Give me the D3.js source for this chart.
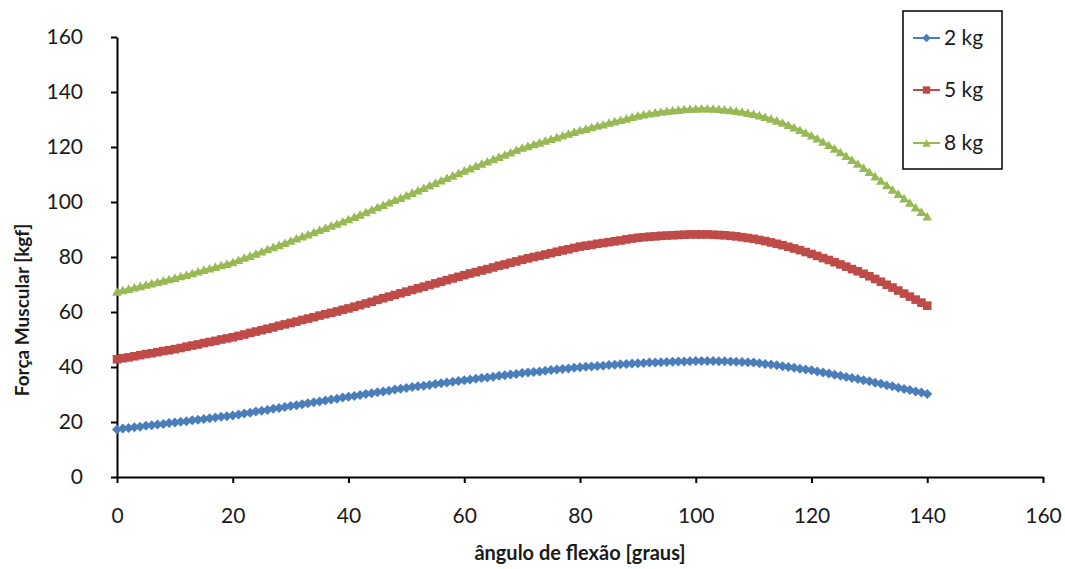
<!DOCTYPE html>
<html>
<head>
<meta charset="utf-8">
<script src="https://cdn.jsdelivr.net/npm/d3@7"></script>
<style>
  html, body { margin: 0; padding: 0; background: #fff; }
  svg { display: block; }
  text { font-family: Lato, "Open Sans", sans-serif; fill: #1a1a1a; }
</style>
</head>
<body>
<svg id="chart" width="1065" height="569"></svg>
<script>
// ---- data ----
const angles = d3.range(0, 141); // ângulo de flexão, 0..140 graus step 1

const kg2 = [
17.3,17.6,17.8,18.1,18.3,18.6,18.8,19.1,19.3,19.6,
19.8,20.1,20.3,20.6,20.8,21.1,21.4,21.6,21.9,22.1,
22.4,22.7,23.1,23.4,23.8,24.1,24.4,24.8,25.1,25.5,
25.8,26.1,26.5,26.8,27.2,27.5,27.8,28.2,28.5,28.9,
29.2,29.5,29.8,30.2,30.5,30.8,31.1,31.4,31.8,32.1,
32.4,32.7,33.0,33.2,33.5,33.8,34.1,34.4,34.6,34.9,
35.2,35.5,35.7,36.0,36.2,36.5,36.8,37.0,37.3,37.5,
37.8,38.0,38.2,38.4,38.6,38.9,39.1,39.3,39.5,39.7,
39.9,40.1,40.2,40.4,40.5,40.7,40.8,41.0,41.1,41.3,
41.4,41.5,41.6,41.6,41.7,41.8,41.9,42.0,42.0,42.1,
42.2,42.2,42.2,42.2,42.1,42.1,42.0,41.9,41.8,41.7,
41.6,41.4,41.1,40.9,40.6,40.3,40.0,39.7,39.4,39.1,
38.8,38.4,38.0,37.6,37.2,36.8,36.4,36.0,35.6,35.2,
34.8,34.3,33.9,33.4,33.0,32.5,32.0,31.6,31.1,30.7,
30.2];

const kg5 = [
42.8,43.2,43.5,43.9,44.3,44.7,45.0,45.4,45.8,46.1,
46.5,46.9,47.4,47.8,48.2,48.7,49.1,49.5,50.0,50.4,
50.8,51.3,51.8,52.4,52.9,53.4,53.9,54.4,55.0,55.5,
56.0,56.5,57.1,57.6,58.1,58.7,59.2,59.7,60.2,60.8,
61.3,61.9,62.5,63.1,63.7,64.4,65.0,65.6,66.2,66.8,
67.4,68.0,68.6,69.2,69.8,70.4,71.0,71.6,72.2,72.8,
73.4,74.0,74.5,75.1,75.6,76.2,76.8,77.3,77.9,78.4,
79.0,79.5,80.0,80.4,80.9,81.4,81.9,82.4,82.8,83.3,
83.8,84.1,84.4,84.8,85.1,85.4,85.7,86.0,86.4,86.7,
87.0,87.2,87.4,87.5,87.7,87.8,87.9,88.0,88.1,88.2,
88.2,88.2,88.2,88.1,88.0,87.9,87.7,87.5,87.2,86.9,
86.6,86.2,85.8,85.3,84.8,84.3,83.7,83.1,82.5,81.8,
81.1,80.4,79.6,78.9,78.1,77.3,76.5,75.6,74.8,73.9,
73.0,72.0,71.0,69.9,68.9,67.8,66.7,65.6,64.5,63.4,
62.3];

const kg8 = [
67.5,68.0,68.5,69.0,69.5,70.0,70.5,71.0,71.5,72.0,
72.5,73.1,73.6,74.2,74.8,75.4,75.9,76.5,77.1,77.6,
78.2,79.0,79.8,80.5,81.3,82.1,82.9,83.7,84.4,85.2,
86.0,86.8,87.6,88.3,89.1,89.9,90.7,91.5,92.2,93.0,
93.8,94.7,95.5,96.4,97.3,98.2,99.0,99.9,100.8,101.6,
102.5,103.4,104.3,105.2,106.1,107.0,107.9,108.8,109.7,110.6,
111.5,112.3,113.2,114.0,114.8,115.7,116.5,117.3,118.1,119.0,
119.8,120.4,121.1,121.7,122.4,123.0,123.6,124.3,124.9,125.6,
126.2,126.7,127.3,127.8,128.3,128.9,129.4,129.9,130.4,131.0,
131.5,131.9,132.3,132.6,132.9,133.2,133.4,133.6,133.8,133.9,
134.0,134.1,134.1,134.0,133.9,133.7,133.5,133.2,132.9,132.5,
132.1,131.6,131.0,130.4,129.7,128.9,128.1,127.2,126.3,125.3,
124.3,123.2,122.0,120.8,119.5,118.2,116.8,115.4,114.0,112.5,
111.0,109.4,107.8,106.2,104.6,103.0,101.4,99.8,98.1,96.5,
94.8];

const seriesNames = ["2 kg", "5 kg", "8 kg"];
const seriesValues = [kg2, kg5, kg8];
const xTicks = [0, 20, 40, 60, 80, 100, 120, 140, 160];
const yTicks = [0, 20, 40, 60, 80, 100, 120, 140, 160];
const xTitle = "ângulo de flexão [graus]";
const yTitle = "Força Muscular [kgf]";

// ---- styles ----
const colors = ["#4A7EBB", "#BE4B48", "#98B954"];
const shapes = ["diamond", "square", "triangle"];

function markerPath(shape, k) {
  const f = k || 1;
  if (shape === "diamond") { const s = 5 * f; return `M0,${-s}L${s},0L0,${s}L${-s},0Z`; }
  if (shape === "square")  { const s = 4.3 * f; return `M${-s},${-s}H${s}V${s}H${-s}Z`; }
  const w = 4.8 * f, h = 4.3 * f; return `M0,${-h}L${w},${h}L${-w},${h}Z`;
}

const svg = d3.select("#chart");
const x = d3.scaleLinear().domain([0, 160]).range([117, 1043]);
const y = d3.scaleLinear().domain([0, 160]).range([477, 37]);

// axes
const gx = svg.append("g").attr("transform", `translate(0,${y(0)})`)
  .call(d3.axisBottom(x).tickValues(xTicks).tickSizeInner(6).tickSizeOuter(0).tickPadding(25));
const gy = svg.append("g").attr("transform", `translate(${x(0)},0)`)
  .call(d3.axisLeft(y).tickValues(yTicks).tickSizeInner(6).tickSizeOuter(0).tickPadding(28));
[gx, gy].forEach(g => {
  g.selectAll("path.domain").attr("stroke", "#000").attr("stroke-width", 2);
  g.selectAll(".tick line").attr("stroke", "#000").attr("stroke-width", 2);
  g.selectAll(".tick text").attr("font-family", "Lato, 'Open Sans', sans-serif")
    .attr("font-size", 21).attr("fill", "#222");
});

// series
const line = d3.line().x((d, i) => x(angles[i])).y(d => y(d));
seriesValues.forEach((vals, k) => {
  const g = svg.append("g");
  g.append("path").datum(vals).attr("d", line)
    .attr("fill", "none").attr("stroke", colors[k]).attr("stroke-width", 2);
  g.selectAll("path.m").data(vals).enter().append("path").attr("class", "m")
    .attr("d", markerPath(shapes[k]))
    .attr("transform", (d, i) => `translate(${x(angles[i])},${y(d)})`)
    .attr("fill", colors[k]);
});

// axis titles
svg.append("text").attr("x", 580).attr("y", 560).attr("text-anchor", "middle")
  .attr("font-size", 20).attr("font-weight", "bold").text(xTitle);
svg.append("text").attr("transform", "translate(29,310) rotate(-90)")
  .attr("text-anchor", "middle").attr("font-size", 19).attr("font-weight", "bold").text(yTitle);

// legend
const lg = svg.append("g");
lg.append("rect").attr("x", 903).attr("y", 11).attr("width", 99).attr("height", 158)
  .attr("fill", "#fff").attr("stroke", "#000").attr("stroke-width", 1.5);
const legY = [38, 90, 143];
seriesNames.forEach((name, k) => {
  lg.append("line").attr("x1", 913).attr("x2", 940).attr("y1", legY[k]).attr("y2", legY[k])
    .attr("stroke", colors[k]).attr("stroke-width", 2);
  lg.append("path").attr("d", markerPath(shapes[k], 0.85))
    .attr("transform", `translate(926.5,${legY[k]})`).attr("fill", colors[k]);
  lg.append("text").attr("x", 944).attr("y", legY[k]).attr("dy", "0.35em")
    .attr("font-size", 21).attr("fill", "#222").text(name);
});
</script>
</body>
</html>
